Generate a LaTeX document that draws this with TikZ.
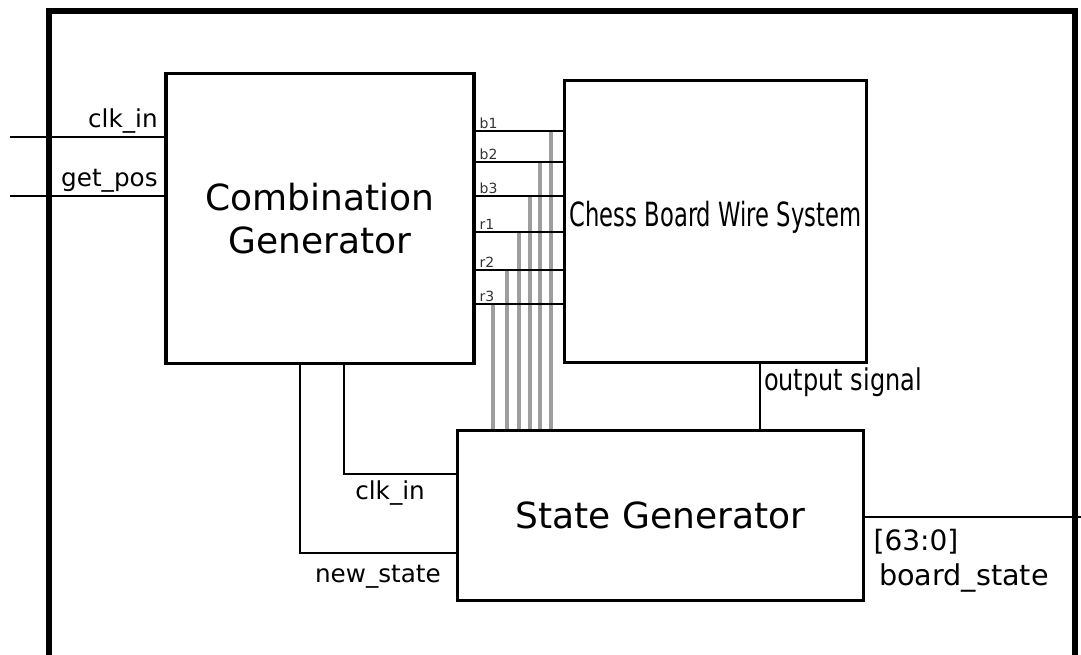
\documentclass[tikz,border=0pt]{standalone}
\usepackage{fontspec}
\setmainfont{DejaVu Sans}
\newfontfamily\narrowfont[FakeStretch=0.68]{DejaVu Sans}
\newfontfamily\semifont[FakeStretch=0.8]{DejaVu Sans}
\usetikzlibrary{positioning}

\tikzset{
  block/.style={draw, line width=2.4pt, align=center, inner sep=0pt},
  wire/.style={line width=2.1pt},
  bus/.style={line width=2.8pt, draw=black!38},
  sig/.style={font=\fontsize{18.5}{22}\selectfont, inner sep=2pt},
  pin/.style={font=\fontsize{10.5}{12}\selectfont, inner sep=1pt, text=black!80},
}

\begin{document}
\begin{tikzpicture}[x=0.75pt, y=-0.75pt]
\useasboundingbox (0,0) rectangle (1081,655);
% outer frame, open at the bottom
\draw[line width=4.5pt] (49,700) -- (49,11) -- (1075,11) -- (1075,700);

% the three blocks
\node[block, minimum width=231pt, minimum height=218pt, font=\fontsize{27}{32}\selectfont] (comb) at (320,218.5) {Combination\\Generator};
\node[block, minimum width=227pt, minimum height=211pt] (chess) at (715.5,221.5) {\raisebox{11pt}{\narrowfont\fontsize{25}{28}\selectfont Chess Board Wire System}};
\node[block, minimum width=305pt, minimum height=127pt, font=\fontsize{27}{32}\selectfont] (state) at (660.5,515.5) {\raisebox{-5pt}{State Generator}};

% grey taps down to the state generator
\foreach \pin/\yy/\xx in {b1/131/551, b2/162/540, b3/196/530, r1/232/519, r2/270/507, r3/304/493} {
  \coordinate (\pin) at (\xx,\yy);
  \draw[bus] (\pin) -- (\pin |- state.north);
}
% wires between the generator and the board
\foreach \pin in {b1,b2,b3,r1,r2,r3}
  \draw[wire] (comb.east |- \pin) -- (chess.west |- \pin) node[pin, pos=0, anchor=south west, xshift=1pt] {\pin};

% inputs
\coordinate (clkpin) at (10,137);
\coordinate (pospin) at (10,196);
\draw[wire] (clkpin) -- (comb.west |- clkpin) node[sig, pos=1, anchor=south east, xshift=-2pt] {clk\_in};
\draw[wire] (pospin) -- (comb.west |- pospin) node[sig, pos=1, anchor=south east, xshift=-2pt] {get\_pos};

% feedback into the state generator
\coordinate (newx) at (300,553);
\coordinate (clkx) at (344,474);
\draw[wire] (comb.south -| newx) |- (state.west |- newx) node[sig, pos=1, anchor=north east, xshift=-8pt, yshift=-6pt] {new\_state};
\draw[wire] (comb.south -| clkx) |- (state.west |- clkx) node[sig, pos=1, anchor=north east, xshift=-20pt, yshift=-2pt] {clk\_in};

% board output
\coordinate (outx) at (760,0);
\draw[wire] (outx |- chess.south) -- (outx |- state.north) node[pos=0, anchor=north west, inner sep=2pt, font=\semifont\fontsize{22.5}{26}\selectfont] {output signal};

\coordinate (bsend) at (1081,517);
\draw[wire] (state.east |- bsend) -- (bsend);
\node[sig, anchor=north west, font=\fontsize{21}{24}\selectfont] (bits) at ([xshift=4pt, yshift=-7pt]state.east |- bsend) {[63:0]};
\node[sig, anchor=north west, font=\fontsize{21.5}{24}\selectfont] (bsname) at ([xshift=8pt, yshift=-33pt]state.east |- bsend) {board\_state};
\end{tikzpicture}
\end{document}
